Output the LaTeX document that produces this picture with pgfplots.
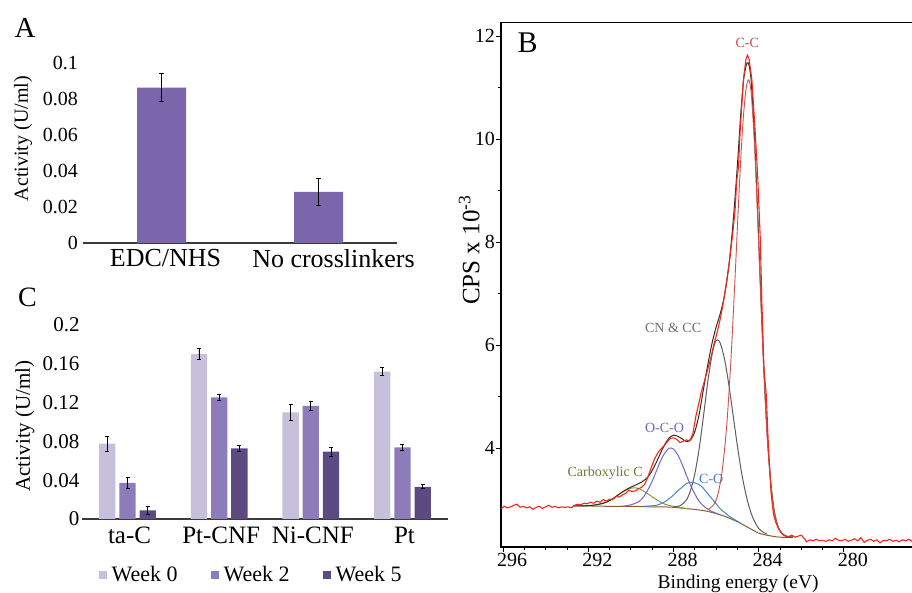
\documentclass[border=0pt]{standalone}
\usepackage{pgfplots}
\pgfplotsset{compat=1.18}
\usepackage{fontspec}
\setmainfont{Liberation Serif}
\definecolor{barA}{HTML}{7B66AB}
\definecolor{wk0}{HTML}{C6C0DA}
\definecolor{wk2}{HTML}{8C7CBA}
\definecolor{wk5}{HTML}{5D4A82}
\definecolor{axgray}{HTML}{3C3C3C}
\definecolor{rawred}{HTML}{F0281C}
\definecolor{ccred}{HTML}{D2504C}
\definecolor{cngray}{HTML}{5E5E5E}
\definecolor{ocopurple}{HTML}{7864C4}
\definecolor{coblue}{HTML}{4486D2}
\definecolor{carbolive}{HTML}{8C9A3C}
\definecolor{bgbrown}{HTML}{8A5A2E}
\definecolor{envdark}{HTML}{3A2A1E}
\definecolor{lblred}{HTML}{C05050}
\definecolor{lblgray}{HTML}{6E6E6E}
\definecolor{lblpurple}{HTML}{7560C0}
\definecolor{lblblue}{HTML}{4080D0}
\definecolor{lblolive}{HTML}{6E7A30}
\newcommand{\fs}[1]{\fontsize{#1}{#1}\selectfont}
\pgfplotsset{sqlegend/.style={legend image code/.code={\fill[##1] (0pt,-4pt) rectangle (8pt,4pt);}}}

\begin{document}
\begin{tikzpicture}
\path[use as bounding box] (0pt,0pt) rectangle (912pt,593pt);

% ---------------- Panel A ----------------
\begin{axis}[
 at={(83pt,350pt)}, anchor=south west, scale only axis,
 width=314pt, height=180pt,
 xmin=-0.5, xmax=1.5, ymin=0, ymax=0.1,
 axis x line*=bottom, axis y line*=left,
 y axis line style={draw=none},
 x axis line style={draw=axgray, line width=1.2pt},
 major tick length=0pt,
 xtick={0,1}, xticklabels={EDC/NHS,\hspace*{22pt}No crosslinkers},
 ytick={0,0.02,0.04,0.06,0.08,0.1},
 yticklabels={0,0.02,0.04,0.06,0.08,0.1},
 xticklabel style={font=\fs{26}, inner sep=0pt, yshift=-6pt, xshift=4pt},
 yticklabel style={font=\fs{20}, inner sep=0pt, xshift=-5pt},
 ylabel={Activity (U/ml)},
 ylabel style={font=\fs{20}, at={(axis description cs:-0.191,0.58)}, anchor=center},
]
\addplot[ybar, bar width=49pt, fill=barA, draw=none,
  error bars/.cd, y dir=both, y explicit,
  error bar style={line width=0.9pt, black},
  error mark options={rotate=90, mark size=2.5pt, line width=0.9pt, black}]
 coordinates {(0,0.0863) +- (0,0.0077) (1,0.0284) +- (0,0.0073)};
\end{axis}

% ---------------- Panel C ----------------
\begin{axis}[
 at={(81.7pt,74pt)}, anchor=south west, scale only axis,
 width=366.6pt, height=194pt,
 ybar=3.9pt, bar width=16.3pt,
 xmin=-0.5, xmax=3.5, ymin=0, ymax=0.2,
 axis x line*=bottom, axis y line*=left,
 y axis line style={draw=none},
 x axis line style={draw=axgray, line width=1.2pt},
 major tick length=0pt,
 xtick={0,1,2,3}, xticklabels={ta-C,Pt-CNF,Ni-CNF,Pt},
 ytick={0,0.04,0.08,0.12,0.16,0.2},
 yticklabels={0,0.04,0.08,0.12,0.16,0.2},
 xticklabel style={font=\fs{25}, inner sep=0pt, yshift=-8pt, xshift=2pt},
 yticklabel style={font=\fs{21}, inner sep=0pt, xshift=-2pt},
 ylabel={Activity (U/ml)},
 ylabel style={font=\fs{21}, at={(axis description cs:-0.155,0.48)}, anchor=center},
 legend style={at={(axis description cs:0.462,-0.289)}, anchor=center, draw=none, fill=none,
   legend columns=3, font=\fs{22}, column sep=3pt,
   /tikz/every even column/.append style={column sep=31pt}},
]
\addplot[sqlegend, fill=wk0, draw=none,
  error bars/.cd, y dir=both, y explicit,
  error bar style={line width=0.9pt, black},
  error mark options={rotate=90, mark size=2pt, line width=0.9pt, black}]
 coordinates {(0,0.0776) +- (0,0.0080) (1,0.1700) +- (0,0.0060) (2,0.1098) +- (0,0.0078) (3,0.1519) +- (0,0.0040)};
\addplot[sqlegend, fill=wk2, draw=none,
  error bars/.cd, y dir=both, y explicit,
  error bar style={line width=0.9pt, black},
  error mark options={rotate=90, mark size=2pt, line width=0.9pt, black}]
 coordinates {(0,0.0372) +- (0,0.0060) (1,0.1253) +- (0,0.0033) (2,0.1167) +- (0,0.0047) (3,0.0739) +- (0,0.0030)};
\addplot[sqlegend, fill=wk5, draw=none,
  error bars/.cd, y dir=both, y explicit,
  error bar style={line width=0.9pt, black},
  error mark options={rotate=90, mark size=2pt, line width=0.9pt, black}]
 coordinates {(0,0.0089) +- (0,0.0043) (1,0.0728) +- (0,0.0033) (2,0.0694) +- (0,0.0048) (3,0.0332) +- (0,0.0020)};
\legend{Week 0, Week 2, Week 5}
\end{axis}

% ---------------- Panel B ----------------
\begin{axis}[
 at={(501pt,46pt)}, anchor=south west, scale only axis,
 width=413.2pt, height=524.8pt,
 x dir=reverse, xmin=276.7, xmax=296.1, ymin=2.08, ymax=12.27,
 axis line style={line width=1.2pt, black},
 tick align=outside, tick pos=left,
 major tick length=5pt, minor tick length=3pt,
 every tick/.style={black, line width=1pt},
 xtick={280,284,288,292,296}, xticklabels={280,284,288,292,296},
 minor x tick num=3,
 ytick={4,6,8,10,12}, yticklabels={4,6,8,10,12},
 minor y tick num=1,
 xticklabel style={font=\fs{20}, inner sep=0pt, yshift=-1pt, xshift=9pt},
 yticklabel style={font=\fs{20}, inner sep=0pt, xshift=-1pt},
 xlabel={Binding energy (eV)},
 xlabel style={font=\fs{19.5}, inner sep=0pt, at={(axis description cs:0.574,-0.0800)}, anchor=base},
 ylabel={CPS x 10\textsuperscript{-3}},
 ylabel style={font=\fs{25}, inner sep=0pt, at={(axis description cs:-0.077,0.566)}, anchor=center},
]
% Shirley background
\addplot[bgbrown, line width=1pt, smooth] coordinates {
(292.7,2.88)(292,2.877)(291,2.87)(290,2.87)(289,2.86)(288.5,2.86)(288,2.85)(287.5,2.83)(287,2.81)(286.5,2.78)(286,2.73)(285.5,2.66)(285,2.57)(284.5,2.46)(284,2.35)(283.5,2.30)(283,2.27)(282.4,2.27)};
% Carboxylic C
\addplot[carbolive, line width=1pt, smooth] coordinates {
(292.4,2.88)(292.0,2.88)(291.6,2.90)(291.2,2.94)(290.8,3.03)(290.4,3.15)(290.0,3.22)(289.85,3.23)(289.6,3.21)(289.2,3.11)(288.8,3.00)(288.4,2.91)(288.0,2.87)(287.6,2.84)(287.3,2.82)};
% O-C-O
\addplot[ocopurple, line width=1pt, smooth] coordinates {
(290.4,2.87)(290.0,2.90)(289.6,2.97)(289.3,3.12)(289.0,3.36)(288.8,3.56)(288.6,3.76)(288.4,3.91)(288.2,4.00)(288.0,3.98)(287.8,3.87)(287.6,3.69)(287.4,3.48)(287.2,3.28)(287.0,3.11)(286.8,2.97)(286.6,2.88)(286.4,2.82)(286.2,2.77)(285.9,2.72)};
% C-O
\addplot[coblue, line width=1pt, smooth] coordinates {
(289.4,2.87)(289.0,2.88)(288.8,2.89)(288.6,2.92)(288.4,2.96)(288.2,3.02)(288.0,3.09)(287.8,3.17)(287.6,3.24)(287.4,3.31)(287.15,3.34)(286.8,3.29)(286.6,3.22)(286.4,3.12)(286.2,3.02)(286.0,2.92)(285.8,2.82)(285.6,2.75)(285.4,2.68)(285.2,2.63)(284.8,2.53)};
% CN & CC
\addplot[cngray, line width=1pt, smooth] coordinates {
(288.0,2.86)(287.7,2.88)(287.4,2.99)(287.2,3.18)(287.0,3.50)(286.8,3.98)(286.6,4.60)(286.4,5.26)(286.2,5.80)(286.05,6.05)(285.93,6.10)(285.8,6.03)(285.6,5.72)(285.4,5.22)(285.2,4.63)(285.0,4.04)(284.8,3.51)(284.6,3.10)(284.4,2.79)(284.2,2.58)(284.0,2.44)(283.8,2.37)(283.6,2.33)};
% fit envelope
\addplot[envdark, line width=1pt, smooth] coordinates {
(292.7,2.88)(292.2,2.88)(291.8,2.89)(291.4,2.92)(291.0,2.98)(290.6,3.09)(290.2,3.20)(289.8,3.28)(289.5,3.34)(289.2,3.44)(289.0,3.57)(288.8,3.73)(288.6,3.91)(288.4,4.08)(288.2,4.20)(288.0,4.25)(287.8,4.23)(287.6,4.18)(287.4,4.13)(287.2,4.16)(287.0,4.32)(286.8,4.65)(286.6,5.13)(286.4,5.60)(286.2,6.02)(286.0,6.35)(285.8,6.62)(285.6,6.98)(285.4,7.55)(285.2,8.40)(285.0,9.50)(284.85,10.45)(284.7,11.18)(284.55,11.48)(284.45,11.42)(284.35,11.10)(284.2,10.05)(284.05,8.58)(283.9,6.94)(283.75,5.45)(283.6,4.24)(283.45,3.40)(283.3,2.85)(283.15,2.55)(283.0,2.39)(282.8,2.30)(282.4,2.27)};
% C-C
\addplot[ccred, line width=0.9pt, smooth] coordinates {
(286.4,2.80)(286.1,2.91)(285.9,3.13)(285.7,3.61)(285.5,4.45)(285.3,5.75)(285.1,7.41)(284.9,9.16)(284.75,10.26)(284.6,10.96)(284.47,11.15)(284.35,10.88)(284.2,9.91)(284.05,8.47)(283.9,6.88)(283.75,5.41)(283.6,4.22)(283.45,3.39)(283.3,2.85)(283.15,2.55)(283.0,2.39)(282.8,2.30)};
% raw data
\addplot[rawred, line width=1.1pt] coordinates {
(296.1,2.82)(295.95,2.87)(295.8,2.84)(295.65,2.86)(295.5,2.89)(295.35,2.91)(295.2,2.85)(295.05,2.87)(294.9,2.84)(294.75,2.86)(294.6,2.81)(294.45,2.85)(294.3,2.87)(294.15,2.83)(294.0,2.86)(293.85,2.89)(293.7,2.85)(293.55,2.87)(293.4,2.84)(293.25,2.86)(293.1,2.85)(292.95,2.86)(292.8,2.84)(292.65,2.89)(292.5,2.91)(292.35,2.90)(292.2,2.93)(292.05,2.92)(291.9,2.95)(291.75,2.93)(291.6,2.97)(291.45,2.95)(291.3,3.00)(291.15,2.97)(291.0,3.01)(290.85,3.00)(290.7,3.06)(290.55,3.05)(290.4,3.09)(290.25,3.12)(290.1,3.18)(289.95,3.16)(289.8,3.17)(289.65,3.21)(289.5,3.24)(289.35,3.30)(289.2,3.44)(289.05,3.62)(288.9,3.78)(288.75,3.90)(288.6,3.98)(288.45,4.04)(288.3,4.12)(288.15,4.19)(288.0,4.20)(287.85,4.17)(287.7,4.11)(287.55,4.13)(287.4,4.16)(287.25,4.14)(287.1,4.26)(286.95,4.62)(286.85,4.80)(286.7,5.08)(286.55,5.30)(286.4,5.52)(286.25,5.75)(286.1,6.02)(285.95,6.25)(285.8,6.52)(285.65,6.85)(285.5,7.26)(285.35,7.70)(285.2,8.25)(285.11,8.62)(285.03,9.20)(284.95,9.45)(284.87,10.17)(284.72,11.15)(284.6,11.55)(284.53,11.63)(284.45,11.55)(284.32,11.15)(284.17,10.17)(284.05,9.30)(283.93,8.10)(283.85,6.81)(283.75,5.51)(283.65,5.06)(283.55,4.10)(283.42,3.12)(283.3,2.70)(283.2,2.56)(283.05,2.42)(282.9,2.34)(282.75,2.30)(282.6,2.28)(282.45,2.31)(282.3,2.27)(282.15,2.29)(282.0,2.31)(281.85,2.24)(281.75,2.18)(281.6,2.22)(281.45,2.20)(281.3,2.23)(281.15,2.20)(281.0,2.21)(280.85,2.19)(280.7,2.22)(280.55,2.20)(280.4,2.25)(280.25,2.21)(280.1,2.20)(279.95,2.23)(279.8,2.19)(279.65,2.21)(279.5,2.24)(279.35,2.20)(279.2,2.26)(279.05,2.17)(278.9,2.21)(278.75,2.23)(278.6,2.19)(278.45,2.22)(278.3,2.16)(278.15,2.21)(278.0,2.20)(277.85,2.23)(277.7,2.19)(277.55,2.21)(277.4,2.18)(277.25,2.22)(277.1,2.20)(276.95,2.23)(276.8,2.19)(276.65,2.21)};
\node[font=\fs{14}, text=lblred] at (axis cs:284.54,11.86) {C-C};
\node[font=\fs{14}, text=lblgray] at (axis cs:288.02,6.33) {CN \& CC};
\node[font=\fs{14}, text=lblpurple] at (axis cs:288.42,4.39) {O-C-O};
\node[font=\fs{14}, text=lblblue] at (axis cs:286.23,3.41) {C-O};
\node[font=\fs{14}, text=lblolive] at (axis cs:291.21,3.52) {Carboxylic C};
\end{axis}

\node[font=\fs{29}] at (25pt,565pt) {A};
\node[font=\fs{28}] at (27.5pt,295.5pt) {C};
\node[font=\fs{30}] at (527.5pt,550pt) {B};
\end{tikzpicture}
\end{document}
